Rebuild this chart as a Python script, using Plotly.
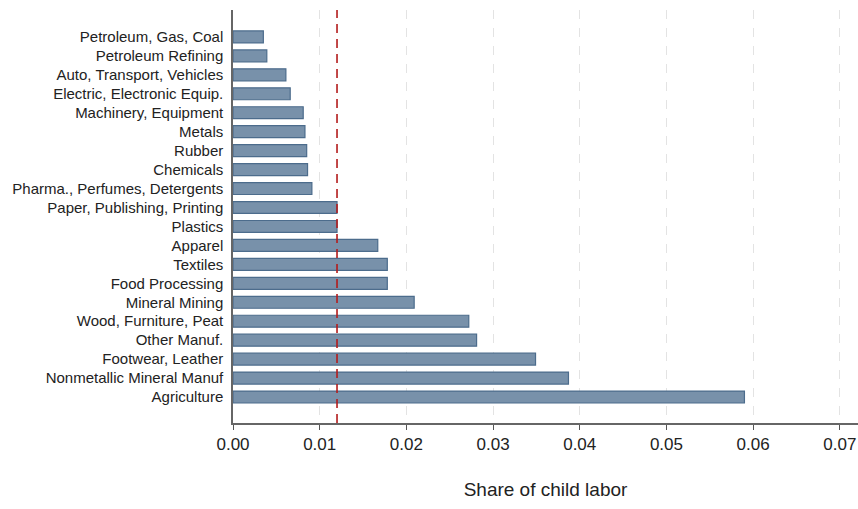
import plotly.graph_objects as go

categories = [
    "Petroleum, Gas, Coal", "Petroleum Refining", "Auto, Transport, Vehicles",
    "Electric, Electronic Equip.", "Machinery, Equipment", "Metals", "Rubber",
    "Chemicals", "Pharma., Perfumes, Detergents", "Paper, Publishing, Printing",
    "Plastics", "Apparel", "Textiles", "Food Processing", "Mineral Mining",
    "Wood, Furniture, Peat", "Other Manuf.", "Footwear, Leather",
    "Nonmetallic Mineral Manuf", "Agriculture",
]
shares = [
    0.0035, 0.0039, 0.0061, 0.0066, 0.0081, 0.0083, 0.0085, 0.0086, 0.0091,
    0.0120, 0.0120, 0.0167, 0.0178, 0.0178, 0.0209, 0.0272, 0.0281, 0.0349,
    0.0387, 0.0590,
]
mean_share = 0.012
x_ticks = [0.00, 0.01, 0.02, 0.03, 0.04, 0.05, 0.06, 0.07]

fig = go.Figure()
fig.add_trace(go.Bar(
    x=shares, y=categories, orientation="h", width=0.63,
    marker=dict(color="#7891aa", line=dict(color="#4c6c8c", width=1.2)),
))

fig.add_shape(type="line", x0=mean_share, x1=mean_share, y0=0, y1=1,
              xref="x", yref="paper",
              line=dict(color="#b31b1b", width=1.6, dash="9px,6px"))

fig.update_layout(
    width=858, height=509,
    margin=dict(l=233, r=0, t=10, b=86),
    plot_bgcolor="white", paper_bgcolor="white",
    showlegend=False,
    font=dict(family="Liberation Sans, Arial, sans-serif", color="#222222"),
)
fig.update_xaxes(
    range=[0, 0.0721], tickvals=x_ticks,
    ticktext=[f"{v:.2f}" for v in x_ticks],
    tickfont=dict(size=17), ticks="outside", ticklen=5, tickcolor="#555555",
    showline=True, linecolor="#666666", linewidth=1.5,
    showgrid=True, gridcolor="#e3e3e3", gridwidth=1.2, griddash="dash",
    zeroline=False, automargin=False,
    title=dict(text="Share of child labor", font=dict(size=19), standoff=30),
)
fig.update_yaxes(
    categoryorder="array", categoryarray=categories[::-1],
    range=[-1.37, 20.42],
    tickfont=dict(size=15), ticks="", ticklabelstandoff=5,
    showline=True, linecolor="#666666", linewidth=1.5,
    showgrid=False, zeroline=False, automargin=False,
)
fig.write_html(
    "out.html",
    config={"displayModeBar": False},
    post_script="document.body.style.margin='0';document.body.style.overflow='hidden';",
)
